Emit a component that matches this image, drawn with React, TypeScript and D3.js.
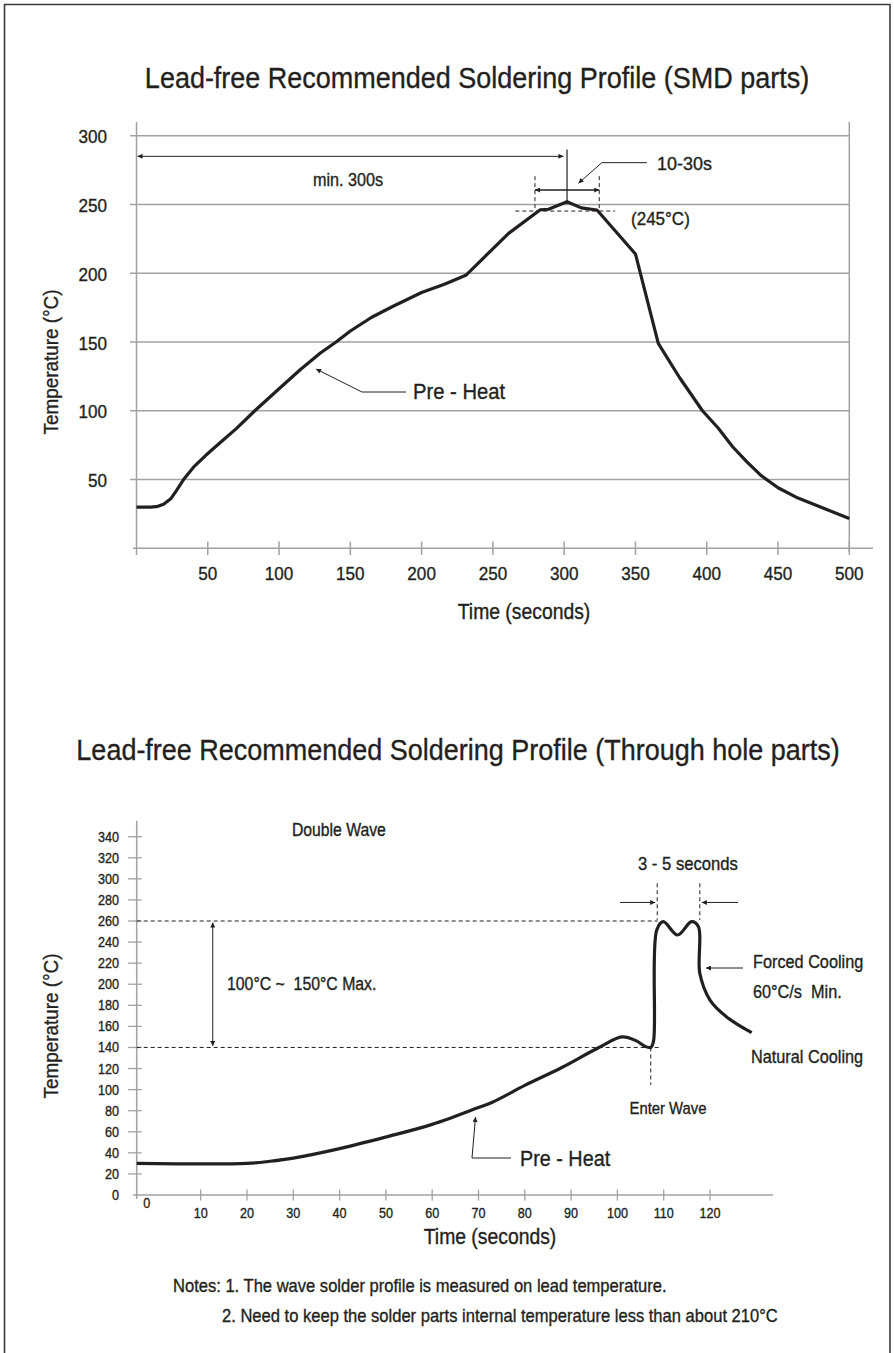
import React from 'react';
import * as d3 from 'd3';

// ---------- Data: SMD reflow profile ----------
const smdTime = [0, 10, 15, 19, 24, 28, 33, 40, 49, 60, 70, 83, 100, 115, 129, 140, 150, 165, 180, 200, 216, 231, 261, 283, 289, 302, 312, 323, 350, 366, 381, 397, 408, 418, 428, 438, 450, 464, 500];
const smdTemp = [30, 30, 30.5, 32, 36, 42, 50, 59, 68, 78, 87, 100, 116, 130, 142, 150, 158, 168, 176, 186, 192, 198.5, 229, 246, 246.5, 252, 247.5, 246, 214, 149, 124, 100, 87.5, 74, 63, 53, 44, 36.5, 21.7];
const smdXTicks = [50, 100, 150, 200, 250, 300, 350, 400, 450, 500];
const smdYTicks = [50, 100, 150, 200, 250, 300];

// ---------- Data: through-hole wave profile ----------
const thTime = [0, 20, 25, 30, 40, 50, 60, 70, 73, 80, 88, 96, 101, 104, 106, 107.2, 107.8, 108.5, 109.9, 113, 116, 117.5, 117.8, 120, 123.6, 129];
const thTemp = [30, 30, 32, 35, 44, 55, 67, 83, 88, 104, 121, 140, 150, 146.5, 141, 140, 146, 251.5, 259.4, 246.7, 259.4, 254.6, 210.4, 185, 169, 154];
const thXTicks = [10, 20, 30, 40, 50, 60, 70, 80, 90, 100, 110, 120];
const thYTicks = [0, 20, 40, 60, 80, 100, 120, 140, 160, 180, 200, 220, 240, 260, 280, 300, 320, 340];

const INK = '#231f20';
const GRID = '#a2a2a2';
const FONT = "'Liberation Sans', Arial, Helvetica, sans-serif";

type TProps = {
  x: number; y: number; size: number; children: React.ReactNode;
  anchor?: 'start' | 'middle' | 'end'; sx?: number; rotate?: number;
};
const T = ({ x, y, size, children, anchor = 'start', sx = 0.9, rotate = 0 }: TProps) => (
  <text
    transform={`translate(${x},${y})${rotate ? ` rotate(${rotate})` : ''} scale(${sx},1)`}
    fontSize={size}
    fontFamily={FONT}
    textAnchor={anchor}
    fill={INK}
    stroke={INK}
    strokeWidth={0.35}
    style={{ whiteSpace: 'pre' }}
  >
    {children}
  </text>
);

export default function App() {
  // Top chart scales
  const xS = d3.scaleLinear().domain([0, 500]).range([136.5, 849.3]);
  const yS = d3.scaleLinear().domain([0, 300]).range([548.3, 135.7]);
  // Bottom chart scales (axis origin is offset from the regular 10 s spacing)
  const xB = d3.scaleLinear().domain([0, 10, 120]).range([136.7, 200.7, 710]);
  const yB = d3.scaleLinear().domain([0, 340]).range([1195, 836.7]);

  const smdLine = d3.line<number>().x((d, i) => xS(smdTime[i])).y((d) => yS(d)).curve(d3.curveLinear);
  const thLine = d3.line<number>().x((d, i) => xB(thTime[i])).y((d) => yB(d)).curve(d3.curveCatmullRom.alpha(0.5));

  const dash = '4,3';

  return (
    <svg width={894} height={1353} style={{ position: 'absolute', left: 0, top: 0, background: '#fff' }}>
      <defs>
        <marker id="ah" viewBox="0 0 10 10" refX="10" refY="5" markerWidth="8" markerHeight="5"
          orient="auto-start-reverse" markerUnits="userSpaceOnUse">
          <path d="M0,0 L10,5 L0,10 z" fill={INK} />
        </marker>
      </defs>
      <rect x={0} y={0} width={894} height={1353} fill="#fff" />
      {/* frame */}
      <path d="M4.5,1353 L4.5,4.5 L890,4.5 L890,1353" fill="none" stroke="#3a3a3a" strokeWidth={1.6} />

      {/* ================= TOP CHART ================= */}
      <T x={477} y={88} size={30} anchor="middle" sx={0.9}>Lead-free Recommended Soldering Profile (SMD parts)</T>

      {smdYTicks.map((v) => (
        <line key={'g' + v} x1={130} x2={xS(500)} y1={yS(v)} y2={yS(v)} stroke={GRID} strokeWidth={1.5} />
      ))}
      <line x1={xS(0)} x2={xS(0)} y1={122} y2={555} stroke={GRID} strokeWidth={1.5} />
      <line x1={xS(500)} x2={xS(500)} y1={122} y2={552} stroke={GRID} strokeWidth={1.5} />
      <line x1={133} x2={873} y1={yS(0)} y2={yS(0)} stroke={GRID} strokeWidth={1.5} />
      {smdXTicks.map((v) => (
        <g key={'xt' + v}>
          <line x1={xS(v)} x2={xS(v)} y1={yS(0) - 6.7} y2={yS(0) + 6.7} stroke={GRID} strokeWidth={1.5} />
          <T x={xS(v)} y={580} size={19} anchor="middle">{v}</T>
        </g>
      ))}
      {smdYTicks.map((v) => (
        <T key={'yt' + v} x={107} y={yS(v) + 7.5} size={19} anchor="end">{v}</T>
      ))}
      <T x={58} y={362} size={21} anchor="middle" rotate={-90}>Temperature (°C)</T>
      <T x={524} y={619} size={21.5} anchor="middle">Time (seconds)</T>

      {/* annotations */}
      <line x1={xS(0) + 1} x2={xS(299.5)} y1={yS(285)} y2={yS(285)} stroke={INK} strokeWidth={1} markerStart="url(#ah)" markerEnd="url(#ah)" />
      <T x={348} y={186} size={18}>{''}</T>
      <T x={348} y={186} size={18} anchor="middle">min. 300s</T>
      <line x1={xS(302)} x2={xS(302)} y1={yS(290)} y2={yS(252)} stroke={INK} strokeWidth={1.2} />
      <line x1={xS(279.5)} x2={xS(279.5)} y1={yS(270.6)} y2={yS(246)} stroke={INK} strokeWidth={1} strokeDasharray={dash} />
      <line x1={xS(324.6)} x2={xS(324.6)} y1={yS(270.6)} y2={yS(246)} stroke={INK} strokeWidth={1} strokeDasharray={dash} />
      <line x1={xS(279.5)} x2={xS(324.6)} y1={yS(260.5)} y2={yS(260.5)} stroke={INK} strokeWidth={1.4} markerStart="url(#ah)" markerEnd="url(#ah)" />
      <polyline points={`${xS(358)},${yS(280.4)} ${xS(326.4)},${yS(280.4)} ${xS(310)},${yS(265.4)}`} fill="none" stroke={INK} strokeWidth={1} markerEnd="url(#ah)" />
      <T x={657} y={170} size={18.5} sx={0.97}>10-30s</T>
      <line x1={xS(265.7)} x2={xS(335.7)} y1={yS(245.2)} y2={yS(245.2)} stroke={INK} strokeWidth={1} strokeDasharray={dash} />
      <T x={631} y={225} size={18.5} sx={0.92}>(245°C)</T>
      <polyline points={`406,392 362,392 316,369`} fill="none" stroke={INK} strokeWidth={1} markerEnd="url(#ah)" />
      <T x={413} y={399} size={22} sx={0.92}>Pre - Heat</T>

      <path d={smdLine(smdTemp) || ''} fill="none" stroke={INK} strokeWidth={3.2} strokeLinejoin="round" />

      {/* ================= BOTTOM CHART ================= */}
      <T x={458} y={760} size={30} anchor="middle" sx={0.9}>Lead-free Recommended Soldering Profile (Through hole parts)</T>

      <line x1={xB(0)} x2={xB(0)} y1={820.7} y2={1199} stroke={GRID} strokeWidth={1.5} />
      <line x1={133} x2={773} y1={yB(0)} y2={yB(0)} stroke={GRID} strokeWidth={1.5} />
      {thYTicks.map((v) => (
        <g key={'byt' + v}>
          {v > 0 && <line x1={128} x2={141.7} y1={yB(v)} y2={yB(v)} stroke={GRID} strokeWidth={1.3} />}
          <T x={119} y={yB(v) + 5} size={14} anchor="end">{v}</T>
        </g>
      ))}
      {thXTicks.map((v) => (
        <g key={'bxt' + v}>
          <line x1={xB(v)} x2={xB(v)} y1={yB(0) - 5.5} y2={yB(0) + 5.5} stroke={GRID} strokeWidth={1.3} />
          <T x={xB(v)} y={1218} size={14} anchor="middle">{v}</T>
        </g>
      ))}
      <T x={xB(0) + 10} y={1208} size={14} anchor="middle">0</T>
      <T x={58} y={1026} size={21} anchor="middle" rotate={-90}>Temperature (°C)</T>
      <T x={490} y={1244} size={21.5} anchor="middle">Time (seconds)</T>

      <T x={292} y={836} size={17.5}>Double Wave</T>
      <line x1={xB(0)} x2={xB(108.7)} y1={yB(260)} y2={yB(260)} stroke={INK} strokeWidth={1} strokeDasharray={dash} />
      <line x1={xB(0)} x2={xB(108.9)} y1={yB(140)} y2={yB(140)} stroke={INK} strokeWidth={1} strokeDasharray={dash} />
      <line x1={xB(12.6)} x2={xB(12.6)} y1={yB(258.5)} y2={yB(141.5)} stroke={INK} strokeWidth={1} markerStart="url(#ah)" markerEnd="url(#ah)" />
      <T x={227} y={990} size={18} sx={0.88}>100°C ~  150°C Max.</T>
      <line x1={xB(107.2)} x2={xB(107.2)} y1={yB(140)} y2={yB(104.4)} stroke={INK} strokeWidth={1} strokeDasharray={dash} />
      <T x={668} y={1114} size={16.5} anchor="middle">Enter Wave</T>
      <T x={638} y={870} size={18.5}>3 - 5 seconds</T>
      <line x1={xB(108.6)} x2={xB(108.6)} y1={yB(295.8)} y2={yB(261)} stroke={INK} strokeWidth={1} strokeDasharray={dash} />
      <line x1={xB(117.8)} x2={xB(117.8)} y1={yB(295.8)} y2={yB(261)} stroke={INK} strokeWidth={1} strokeDasharray={dash} />
      <line x1={620} x2={xB(108.6) - 2} y1={yB(277.6)} y2={yB(277.6)} stroke={INK} strokeWidth={1} markerEnd="url(#ah)" />
      <line x1={738} x2={xB(117.8) + 2} y1={yB(277.6)} y2={yB(277.6)} stroke={INK} strokeWidth={1} markerEnd="url(#ah)" />
      <T x={753} y={968} size={18.5} sx={0.88}>Forced Cooling</T>
      <T x={753} y={998} size={18.5} sx={0.88}>60°C/s  Min.</T>
      <line x1={743} x2={706} y1={968} y2={968} stroke={INK} strokeWidth={1} markerEnd="url(#ah)" />
      <T x={751} y={1063} size={18.5} sx={0.88}>Natural Cooling</T>
      <polyline points={`511,1158 472,1158 475.5,1117`} fill="none" stroke={INK} strokeWidth={1} markerEnd="url(#ah)" />
      <T x={520} y={1166} size={22} sx={0.9}>Pre - Heat</T>

      <path d={thLine(thTemp) || ''} fill="none" stroke={INK} strokeWidth={3.2} strokeLinejoin="round" />

      <T x={173} y={1292} size={18} sx={0.92}>Notes: 1. The wave solder profile is measured on lead temperature.</T>
      <T x={222} y={1322} size={18} sx={0.92}>2. Need to keep the solder parts internal temperature less than about 210°C</T>
    </svg>
  );
}
